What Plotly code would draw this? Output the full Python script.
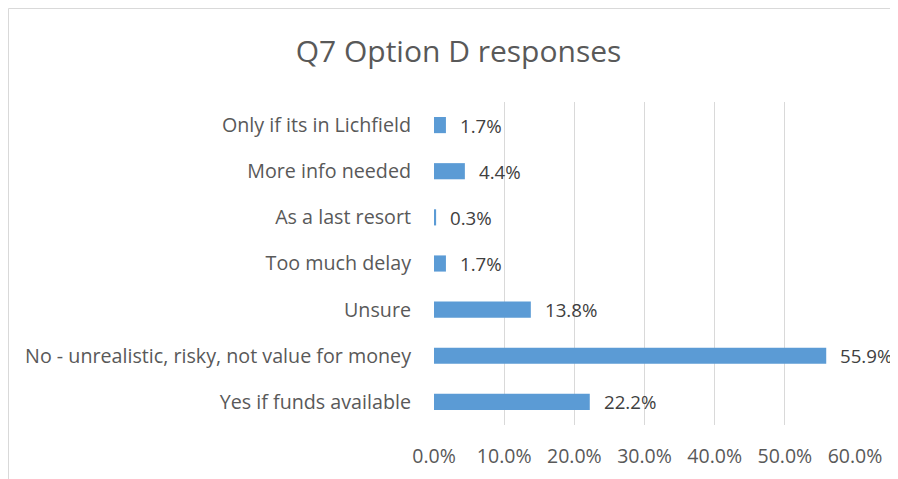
import plotly.graph_objects as go

categories = [
    "Yes if funds available",
    "No - unrealistic, risky, not value for money",
    "Unsure",
    "Too much delay",
    "As a last resort",
    "More info needed",
    "Only if its in Lichfield",
]
values = [22.2, 55.9, 13.8, 1.7, 0.3, 4.4, 1.7]
tick_vals = [0, 10, 20, 30, 40, 50, 60]
tick_text = ["0.0%", "10.0%", "20.0%", "30.0%", "40.0%", "50.0%", "60.0%"]

FONT = "Open Sans"
W, H = 890, 471
L, R, T, B = 426, 43, 94, 54
fig = go.Figure()
fig.add_trace(go.Bar(
    x=values, y=categories, orientation="h",
    marker=dict(color="#5B9BD5", line=dict(width=0)),
    hoverinfo="skip",
))
for c, v in zip(categories, values):
    fig.add_annotation(x=v, y=c, text=f"{v:.1f}%", showarrow=False,
                       xanchor="left", xshift=13, borderpad=0,
                       font=dict(family=FONT, size=18.7, color="#404040"))

pw, ph = W - L - R, H - T - B
fig.update_layout(
    width=W, height=H,
    margin=dict(l=L, r=R, t=T, b=B, autoexpand=False),
    paper_bgcolor="white", plot_bgcolor="white",
    bargap=0.65,
    showlegend=False,
    title=dict(text="Q7 Option D responses", x=450.5 / W, xref="container", xanchor="center",
               y=1 - 43 / H, yref="container", yanchor="middle",
               font=dict(family=FONT, size=30, color="#595959")),
    xaxis=dict(range=[0, 60], tickvals=tick_vals, ticktext=tick_text,
               showgrid=True, gridcolor="#D9D9D9", gridwidth=1,
               zeroline=False, showline=False, automargin=False,
               ticks="", ticklabelstandoff=17,
               tickfont=dict(family=FONT, size=19.5, color="#595959")),
    yaxis=dict(showgrid=False, zeroline=False, showline=False, ticks="",
               automargin=False, ticklabelstandoff=22,
               tickfont=dict(family=FONT, size=19.7, color="#595959")),
    shapes=[dict(type="rect", xref="paper", yref="paper",
                 x0=(0.5 - L) / pw, x1=(W + 10 - L) / pw,
                 y0=-(B + 10) / ph, y1=(H - 0.5 - B) / ph,
                 line=dict(color="#D9D9D9", width=1), layer="below")],
)
fig.write_html("out.html")
